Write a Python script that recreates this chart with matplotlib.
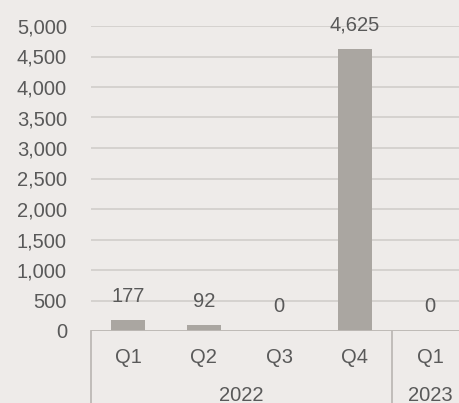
import numpy as np
import matplotlib.pyplot as plt

plt.rcParams['font.family'] = ['Liberation Sans', 'DejaVu Sans']

# chart data
quarters = ["Q1", "Q2", "Q3", "Q4", "Q1"]
years = ["2022", "2023"]
year_spans = [(0, 3), (4, 4)]
values = [177, 92, 0, 4625, 0]

bg = "#EEEBE9"
bar_color = "#AAA6A1"
text_color = "#595959"
grid_color = "#D3D0CD"
axis_color = "#BDB9B5"

fig = plt.figure(figsize=(4.59, 4.03), dpi=100, facecolor=bg)
ax = fig.add_axes([90.5 / 459, 72 / 403, 377.5 / 459, 305 / 403], facecolor=bg)

x = np.arange(len(values))
ax.bar(x, values, width=0.45, color=bar_color, zorder=3)

for xi, v in zip(x, values):
    ax.annotate(f"{v:,}", (xi, v), xytext=(0, 10.5), textcoords="offset points",
                ha="center", va="bottom", fontsize=14.5, color=text_color)

ax.set_xlim(-0.5, len(values) - 0.5)
ax.set_ylim(0, 5000)
ax.set_yticks(np.arange(0, 5001, 500))
ax.set_yticklabels([f"{t:,}" for t in range(0, 5001, 500)])
ax.tick_params(axis="y", length=0, pad=17, labelsize=14.5, labelcolor=text_color)
ax.set_xticks([])
ax.grid(axis="y", color=grid_color, linewidth=1.3, zorder=0)
for s in ax.spines.values():
    s.set_visible(False)
ax.axhline(0, color=axis_color, linewidth=1.3, zorder=4)

# multi-level category axis
trans = ax.get_xaxis_transform()
for xi, q in zip(x, quarters):
    ax.text(xi, -0.087, q, transform=trans, ha="center", va="center",
            fontsize=14.5, color=text_color)
for yr, (a, b) in zip(years, year_spans):
    ax.text((a + b) / 2, -0.212, yr, transform=trans, ha="center", va="center",
            fontsize=14.5, color=text_color)
for sep in [-0.5, 3.5, 4.5]:
    ax.plot([sep, sep], [0, -0.3], transform=trans, color=axis_color,
            linewidth=1.3, clip_on=False)

plt.savefig("out.png", dpi=100, facecolor=bg)
